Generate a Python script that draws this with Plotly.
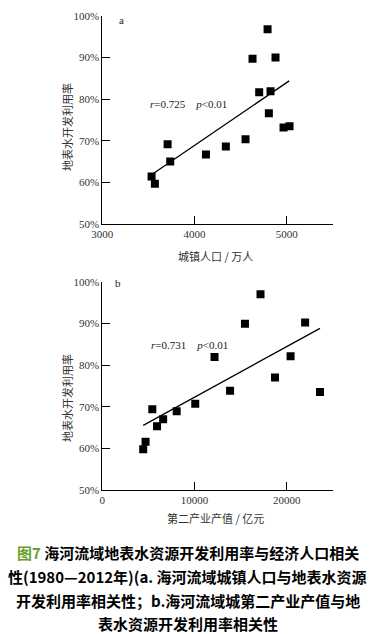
import plotly.graph_objects as go

# Panel a: urban population (10k persons) vs surface water utilisation rate (%)
pop_a = [3534, 3570, 3708, 3736, 4123, 4339, 4552, 4628, 4700, 4791, 4823, 4805, 4877, 4964, 5029]
rate_a = [61.4, 59.7, 69.2, 65.0, 66.7, 68.6, 70.4, 89.7, 81.7, 96.8, 81.9, 76.6, 90.0, 73.2, 73.5]
trend_a_x = [3545, 5025]
trend_a_y = [62.0, 84.4]

# Panel b: secondary industry output (100M yuan) vs rate (%)
gdp_b = [4432, 4689, 5421, 5934, 6593, 8059, 10073, 12161, 13846, 15458, 17143, 18718, 20403, 21978, 23590]
rate_b = [59.8, 61.6, 69.4, 65.3, 67.0, 68.9, 70.7, 81.9, 73.8, 89.9, 97.0, 77.0, 82.1, 90.2, 73.5]
trend_b_x = [4432, 23590]
trend_b_y = [65.5, 88.8]

y_ticks = [50, 60, 70, 80, 90, 100]
y_labels = ["50%", "60%", "70%", "80%", "90%", "100%"]
xa_ticks = [3000, 4000, 5000]
xb_ticks = [0, 10000, 20000]
W, H = 375, 634

def py(p):
    return 1 - p / H

def px(p):
    return p / W

fig = go.Figure()
mk = dict(symbol="square", size=8, color="black", line=dict(width=0))
fig.add_trace(go.Scatter(x=pop_a, y=rate_a, mode="markers", marker=mk, xaxis="x", yaxis="y", showlegend=False))
fig.add_trace(go.Scatter(x=trend_a_x, y=trend_a_y, mode="lines", line=dict(color="black", width=1.3), xaxis="x", yaxis="y", showlegend=False))
fig.add_trace(go.Scatter(x=gdp_b, y=rate_b, mode="markers", marker=mk, xaxis="x2", yaxis="y2", showlegend=False))
fig.add_trace(go.Scatter(x=trend_b_x, y=trend_b_y, mode="lines", line=dict(color="black", width=1.3), xaxis="x2", yaxis="y2", showlegend=False))

tickfont = dict(family="Liberation Serif", size=11, color="#333")
axcommon = dict(showline=True, linecolor="black", linewidth=1, ticks="inside", ticklen=8,
                tickcolor="black", showgrid=False, zeroline=False, tickfont=tickfont, automargin=False)

xd = [px(102.3), px(333)]
fig.update_layout(
    width=W, height=H, margin=dict(l=0, r=0, t=0, b=0, autoexpand=False),
    paper_bgcolor="white", plot_bgcolor="white",
    xaxis=dict(domain=xd, range=[3000, 5500], tickvals=xa_ticks, ticktext=[str(v) for v in xa_ticks], anchor="y", **axcommon),
    yaxis=dict(domain=[py(224), py(16)], range=[50, 100], tickvals=y_ticks, ticktext=y_labels, anchor="x", **axcommon),
    xaxis2=dict(domain=xd, range=[0, 25000], tickvals=xb_ticks, ticktext=[str(v) for v in xb_ticks], anchor="y2", **axcommon),
    yaxis2=dict(domain=[py(490), py(281.7)], range=[50, 100], tickvals=y_ticks, ticktext=y_labels, anchor="x2", **axcommon),
)

serif = dict(family="Liberation Serif", size=11, color="#222")
cjk = dict(family="Noto Sans CJK SC", size=11, color="#333")
C = dict(xanchor="center", yanchor="middle", showarrow=False)
ann = []
ann.append(dict(x=3495, y=78.8, xref="x", yref="y", xanchor="left", yanchor="middle", showarrow=False,
                text="<i>r</i>=0.725    <i>p</i>&lt;0.01", font=serif))
ann.append(dict(x=5022, y=84.8, xref="x2", yref="y2", xanchor="left", yanchor="middle", showarrow=False,
                text="<i>r</i>=0.731    <i>p</i>&lt;0.01", font=serif))
ann.append(dict(x=3203, y=99.0, xref="x", yref="y", text="a", font=serif, **C))
ann.append(dict(x=1725, y=99.7, xref="x2", yref="y2", text="b", font=serif, **C))
# axis titles
ann.append(dict(x=px(67), y=py(127), xref="paper", yref="paper", textangle=-90,
                text="地表水开发利用率", font=cjk, **C))
ann.append(dict(x=px(67), y=py(398), xref="paper", yref="paper", textangle=-90,
                text="地表水开发利用率", font=cjk, **C))
ann.append(dict(x=px(216), y=py(256), xref="paper", yref="paper",
                text="城镇人口 / 万人", font=cjk, **C))
ann.append(dict(x=px(215), y=py(518), xref="paper", yref="paper",
                text="第二产业产值 / 亿元", font=cjk, **C))
# caption
cap = dict(family="Noto Sans CJK SC", size=15, color="black")
lines = [
    "<span style='color:#6b9e2f'>图7</span> 海河流域地表水资源开发利用率与经济人口相关",
    "性(1980—2012年)(a. 海河流域城镇人口与地表水资源",
    "开发利用率相关性；b.海河流域城第二产业产值与地",
    "表水资源开发利用率相关性",
]
for t, yy in zip(lines, [552.7, 576, 600, 623]):
    ann.append(dict(x=0.5, y=py(yy), xref="paper", yref="paper",
                    text="<b>" + t + "</b>", font=cap, **C))
fig.update_layout(annotations=ann)
fig.write_html("out.html", config={"displayModeBar": False},
               post_script="document.body.style.margin='0';document.body.style.overflow='hidden';")
